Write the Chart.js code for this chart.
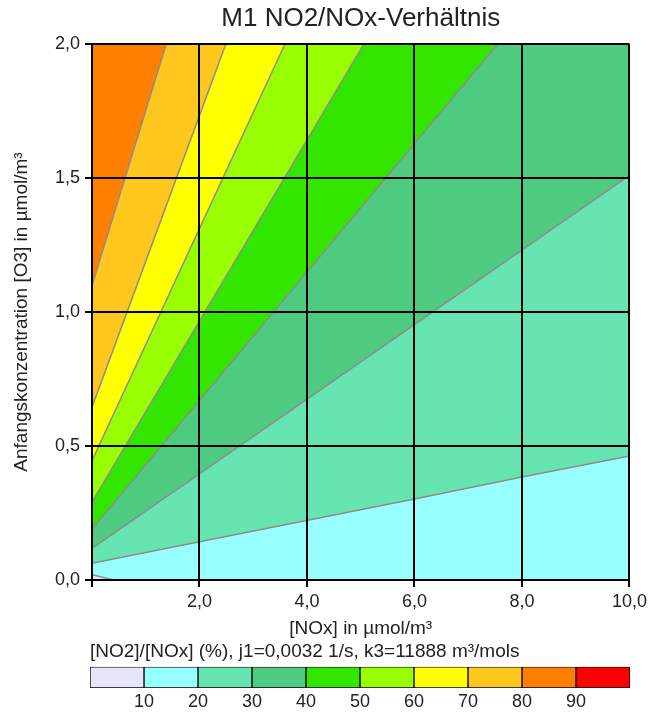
<!DOCTYPE html>
<html>
<head>
<meta charset="utf-8">
<script src="https://cdn.jsdelivr.net/npm/chart.js@4"></script>
<style>
  body { margin: 0; background: #fff; }
  #wrap { position: relative; width: 651px; height: 713px; }
  #main { position: absolute; left: 0; top: 0; }
  #bar { position: absolute; left: 0; top: 640px; }
</style>
</head>
<body>
<div id="wrap">
  <canvas id="main" width="651" height="640"></canvas>
  <canvas id="bar" width="651" height="73"></canvas>
</div>
<script>
// contour levels (%) and colours of the bands between them
const levels = [10, 20, 30, 40, 50, 60, 70, 80, 90];
const bandColors = ['#e6e6fa', '#98ffff', '#66e4b2', '#4ecb80', '#33e600',
                    '#99ff00', '#ffff00', '#ffc61e', '#ff8000', '#ff0000'];

// contour lines: x = NOx, y = O3
const line10 = [{x: 0, y: 0.02}, {x: 0.4, y: 0}];
const line20 = [{x: 0, y: 0.062}, {x: 2, y: 0.143}, {x: 6, y: 0.302}, {x: 8, y: 0.384}, {x: 10, y: 0.463}];
const line30 = [{x: 0, y: 0.118}, {x: 10, y: 1.51}];
const line40 = [{x: 0, y: 0.19}, {x: 7.55, y: 2}];
const line50 = [{x: 0, y: 0.29}, {x: 5.06, y: 2}];
const line60 = [{x: 0, y: 0.445}, {x: 3.59, y: 2}];
const line70 = [{x: 0, y: 0.645}, {x: 2.49, y: 2}];
const line80 = [{x: 0, y: 1.10}, {x: 1.38, y: 2}];
const baseLine = [{x: 0, y: 0}, {x: 10, y: 0}];

const FONT = 'Liberation Sans, Arial, sans-serif';
const fmt = v => v.toFixed(1).replace('.', ',');

// band above a contour line, filled up to the top of the plot
function band(points, color, order) {
    return {
        data: points,
        showLine: true,
        pointRadius: 0,
        borderColor: '#8c8c8c',
        borderWidth: 1.5,
        backgroundColor: color,
        fill: 'end',
        order: order
    };
}

const datasets = [
    {data: baseLine, showLine: true, pointRadius: 0, borderWidth: 0, backgroundColor: bandColors[1], fill: 'end', order: 20},
    {data: line10, showLine: true, pointRadius: 0, borderColor: '#8c8c8c', borderWidth: 1.5, backgroundColor: bandColors[0], fill: 'start', order: 19},
    band(line20, bandColors[2], 18),
    band(line30, bandColors[3], 17),
    band(line40, bandColors[4], 16),
    band(line50, bandColors[5], 15),
    band(line60, bandColors[6], 14),
    band(line70, bandColors[7], 13),
    band(line80, bandColors[8], 12)
];

// title centred over the plot area
const plotTitle = {
    id: 'plotTitle',
    afterDraw(chart) {
        const a = chart.chartArea, ctx = chart.ctx;
        ctx.save();
        ctx.font = '26px ' + FONT;
        ctx.fillStyle = '#222';
        ctx.textAlign = 'center';
        ctx.textBaseline = 'middle';
        ctx.fillText('M1 NO2/NOx-Verhältnis', (a.left + a.right) / 2, 19);
        ctx.restore();
    }
};

new Chart(document.getElementById('main'), {
    type: 'scatter',
    data: {datasets: datasets},
    plugins: [plotTitle],
    options: {
        responsive: false,
        animation: false,
        layout: {padding: {left: 6, right: 21, top: 44, bottom: 0}},
        plugins: {legend: {display: false}, tooltip: {enabled: false}},
        scales: {
            x: {
                type: 'linear', min: 0, max: 10,
                afterFit: s => { s.height = 60; },
                ticks: {stepSize: 2, color: '#222', font: {family: FONT, size: 18}, padding: 4,
                        callback: v => v === 0 ? '' : fmt(v)},
                grid: {color: '#000', lineWidth: 2, tickLength: 7, tickColor: '#000', z: 1},
                border: {color: '#000', width: 2, z: 1},
                title: {display: true, text: '[NOx] in µmol/m³', color: '#222', font: {family: FONT, size: 19},
                        padding: {top: 0, bottom: 0}}
            },
            y: {
                type: 'linear', min: 0, max: 2,
                afterFit: s => { s.width = 86; },
                ticks: {stepSize: 0.5, color: '#222', font: {family: FONT, size: 18}, padding: 5,
                        callback: v => fmt(v)},
                grid: {color: '#000', lineWidth: 2, tickLength: 7, tickColor: '#000', z: 1},
                border: {color: '#000', width: 2, z: 1},
                title: {display: true, text: 'Anfangskonzentration [O3] in µmol/m³', color: '#222', font: {family: FONT, size: 19}}
            }
        }
    }
});

// colour scale below the plot
new Chart(document.getElementById('bar'), {
    type: 'bar',
    data: {
        labels: [''],
        datasets: bandColors.map(c => ({
            data: [10], backgroundColor: c, borderColor: '#000', borderWidth: 1, borderSkipped: false
        }))
    },
    options: {
        responsive: false,
        animation: false,
        indexAxis: 'y',
        layout: {padding: {left: 90, right: 21, top: 0, bottom: 0}},
        plugins: {
            legend: {display: false},
            tooltip: {enabled: false},
            title: {display: true, align: 'start', color: '#222',
                    text: '[NO2]/[NOx] (%), j1=0,0032 1/s, k3=11888 m³/mols',
                    font: {family: FONT, size: 19, weight: 'normal'}, padding: {top: 0, bottom: 4}}
        },
        datasets: {bar: {barPercentage: 1, categoryPercentage: 1}},
        scales: {
            x: {
                stacked: true, min: 0, max: 100,
                afterFit: s => { s.height = 25; },
                ticks: {stepSize: 10, color: '#222', font: {family: FONT, size: 18}, padding: 3,
                        callback: v => (v === 0 || v === 100) ? '' : v},
                grid: {display: false, drawTicks: false},
                border: {display: false}
            },
            y: {stacked: true, display: false}
        }
    }
});
</script>
</body>
</html>
